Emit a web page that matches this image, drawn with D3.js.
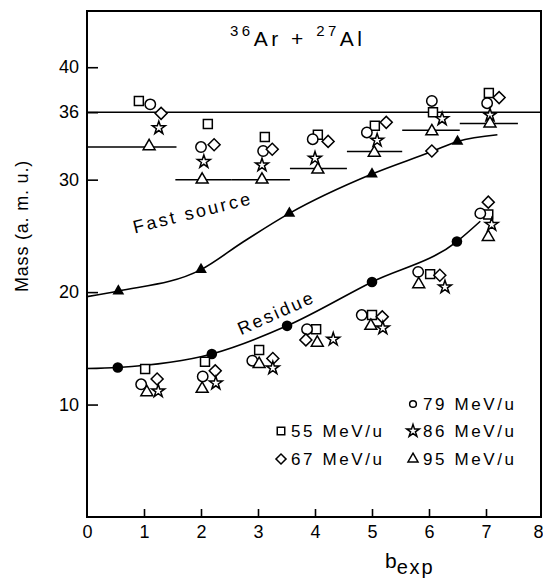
<!DOCTYPE html>
<html>
<head>
<meta charset="utf-8">
<script src="https://cdn.jsdelivr.net/npm/d3@7"></script>
<style>
  html, body { margin: 0; padding: 0; background: #fff; }
  svg { display: block; }
  text { font-family: "Liberation Sans", Arial, Helvetica, sans-serif; fill: #000; }
</style>
</head>
<body>
<svg id="chart" width="543" height="579"></svg>
<script>
// ---------- data ----------
const bTicks = [0, 1, 2, 3, 4, 5, 6, 7, 8];
const massTicks = [10, 20, 30, 40];
const refMass = 36;

// Fast-source fit (filled triangles) and its smooth curve knots
const fastB = [0.55, 2.0, 3.55, 5.0, 6.5];
const fastM = [20.1, 22.0, 27.0, 30.5, 33.4];
const fastCurveB = [0, 0.55, 2.0, 2.75, 3.55, 5.0, 6.05, 6.5, 7.2];
const fastCurveM = [19.6, 20.1, 22.0, 24.5, 27.0, 30.5, 32.5, 33.4, 34.0];

// Residue fit (filled circles) and its curve knots
const resB = [0.54, 2.19, 3.51, 5.0, 6.49];
const resM = [13.3, 14.5, 17.0, 20.9, 24.5];
const resCurveB = [0, 0.54, 2.19, 3.51, 5.0, 6.49, 6.9];
const resCurveM = [13.2, 13.3, 14.5, 17.0, 20.9, 24.5, 26.3];

// b bins (horizontal bars) for the 95 MeV/u fast-source points
const binLo = [0, 1.55, 2.54, 3.56, 4.56, 5.53, 6.54];
const binHi = [1.57, 2.54, 3.56, 4.56, 5.53, 6.54, 7.56];
const binM  = [32.9, 30.0, 30.0, 31.0, 32.5, 34.4, 35.0];

// Fast source measurements
const fast55B = [0.91, 2.12, 3.12, 4.05, 5.05, 6.07, 7.05];
const fast55M = [37.0, 34.95, 33.8, 34.0, 34.8, 36.0, 37.7];
const fast79B = [1.11, 2.0, 3.09, 3.96, 4.91, 6.05, 7.02];
const fast79M = [36.7, 32.9, 32.55, 33.6, 34.2, 37.0, 36.8];
const fast67B = [1.30, 2.23, 3.25, 4.23, 5.25, 6.05, 7.23];
const fast67M = [35.9, 33.1, 32.7, 33.4, 35.1, 32.55, 37.3];
const fast86B = [1.26, 2.05, 3.07, 4.0, 5.09, 6.23, 7.07];
const fast86M = [34.6, 31.6, 31.3, 31.9, 33.5, 35.4, 35.75];
const fast95B = [1.09, 2.02, 3.07, 4.05, 5.04, 6.05, 7.07];
const fast95M = [32.97, 30.0, 30.0, 30.9, 32.4, 34.3, 35.0];

// Residue measurements
const res55B = [1.02, 2.07, 3.02, 4.02, 5.0, 6.02, 7.04];
const res55M = [13.16, 13.8, 14.85, 16.7, 17.96, 21.6, 26.9];
const res79B = [0.95, 2.03, 2.9, 3.86, 4.82, 5.81, 6.9];
const res79M = [11.8, 12.5, 13.9, 16.7, 17.96, 21.8, 27.0];
const res67B = [1.23, 2.25, 3.26, 3.84, 5.18, 6.19, 7.04];
const res67M = [12.27, 13.0, 14.1, 15.75, 17.8, 21.5, 28.0];
const res86B = [1.25, 2.26, 3.26, 4.32, 5.19, 6.28, 7.1];
const res86M = [11.2, 11.9, 13.25, 15.8, 16.8, 20.45, 26.0];
const res95B = [1.05, 2.02, 3.02, 4.04, 4.98, 5.82, 7.04];
const res95M = [11.1, 11.4, 13.6, 15.5, 17.0, 20.7, 24.9];

const energies = ["55 MeV/u", "79 MeV/u", "67 MeV/u", "86 MeV/u", "95 MeV/u"];

// ---------- chart ----------
const svg = d3.select("#chart");
const x = d3.scaleLinear().domain([0, 8]).range([87, 543]);
const y = d3.scaleLinear().domain([0, 45]).range([517, 11]);

const FONT = "Liberation Sans, Arial, Helvetica, sans-serif";

// symbol generators
const symSize = { square: 80, circle: 85, diamond: 72, star: 52, triangle: 62 };
function symPath(kind, scale) {
  const s = scale || 1;
  if (kind === "square") return d3.symbol(d3.symbolSquare, symSize.square * s)();
  if (kind === "diamond") return d3.symbol(d3.symbolSquare, symSize.diamond * s)();
  if (kind === "circle") return d3.symbol(d3.symbolCircle, symSize.circle * s)();
  if (kind === "star") return d3.symbol(d3.symbolStar, symSize.star * s)();
  return d3.symbol(d3.symbolTriangle, symSize.triangle * s)();
}
function rot(kind) { return kind === "diamond" ? " rotate(45)" : ""; }

// frame
const fr = { l: x(0), r: 541, t: y(45), b: y(0) };
svg.append("rect")
  .attr("x", fr.l).attr("y", fr.t)
  .attr("width", fr.r - fr.l).attr("height", fr.b - fr.t)
  .attr("fill", "none").attr("stroke", "#000").attr("stroke-width", 2);

// x axis
const xAxis = d3.axisBottom(x).tickValues(bTicks)
  .tickSizeInner(-8).tickSizeOuter(0).tickPadding(8)
  .tickFormat(d3.format("d"));
const gx = svg.append("g").attr("transform", `translate(0,${y(0)})`).call(xAxis);
gx.select(".domain").remove();
gx.selectAll(".tick line").attr("stroke-width", 1.6)
  .filter(d => d === 0 || d === 8).remove();
gx.selectAll(".tick text").attr("font-family", FONT).attr("font-size", 18).attr("fill", "#000")
  .attr("dx", d => d === 8 ? -5 : 0);

// y axis
const yAxis = d3.axisLeft(y).tickValues(massTicks.concat([refMass]))
  .tickSizeInner(-11).tickSizeOuter(0).tickPadding(8)
  .tickFormat(d3.format("d"));
const gy = svg.append("g").attr("transform", `translate(${x(0)},0)`).call(yAxis);
gy.select(".domain").remove();
gy.selectAll(".tick line").attr("stroke-width", 1.6);
gy.selectAll(".tick text").attr("font-family", FONT).attr("font-size", 18).attr("fill", "#000");

// reference line at 36
svg.append("line")
  .attr("x1", x(0)).attr("x2", fr.r)
  .attr("y1", y(refMass)).attr("y2", y(refMass))
  .attr("stroke", "#000").attr("stroke-width", 1.5);

// bin bars
svg.append("g").selectAll("line").data(binM).join("line")
  .attr("x1", (d, i) => x(binLo[i])).attr("x2", (d, i) => x(binHi[i]))
  .attr("y1", d => y(d)).attr("y2", d => y(d))
  .attr("stroke", "#000").attr("stroke-width", 1.5);

// curves
const line = d3.line().x(d => x(d[0])).y(d => y(d[1])).curve(d3.curveMonotoneX);
svg.append("path").attr("d", line(fastCurveB.map((b, i) => [b, fastCurveM[i]])))
  .attr("fill", "none").attr("stroke", "#000").attr("stroke-width", 1.6);
svg.append("path").attr("d", line(resCurveB.map((b, i) => [b, resCurveM[i]])))
  .attr("fill", "none").attr("stroke", "#000").attr("stroke-width", 1.6);

// filled fit points
svg.append("g").selectAll("path").data(fastB).join("path")
  .attr("d", d3.symbol(d3.symbolTriangle, 60)())
  .attr("transform", (d, i) => `translate(${x(d)},${y(fastM[i])})`)
  .attr("fill", "#000");
svg.append("g").selectAll("circle").data(resB).join("circle")
  .attr("cx", d => x(d)).attr("cy", (d, i) => y(resM[i])).attr("r", 5.3)
  .attr("fill", "#000");

// open measurement symbols
const series = [
  { kind: "square", b: fast55B, m: fast55M }, { kind: "circle", b: fast79B, m: fast79M },
  { kind: "diamond", b: fast67B, m: fast67M }, { kind: "star", b: fast86B, m: fast86M },
  { kind: "triangle", b: fast95B, m: fast95M },
  { kind: "square", b: res55B, m: res55M }, { kind: "circle", b: res79B, m: res79M },
  { kind: "diamond", b: res67B, m: res67M }, { kind: "star", b: res86B, m: res86M },
  { kind: "triangle", b: res95B, m: res95M }
];
series.forEach(s => {
  svg.append("g").selectAll("path").data(s.b).join("path")
    .attr("d", symPath(s.kind))
    .attr("transform", (d, i) => `translate(${x(d)},${y(s.m[i])})${rot(s.kind)}`)
    .attr("fill", "#fff").attr("stroke", "#000").attr("stroke-width", 1.5);
});

// legend
const legend = [
  { kind: "circle", label: energies[1], px: 413, py: 404 },
  { kind: "square", label: energies[0], px: 281, py: 431 },
  { kind: "star", label: energies[3], px: 413, py: 431 },
  { kind: "diamond", label: energies[2], px: 281, py: 459 },
  { kind: "triangle", label: energies[4], px: 413, py: 459 }
];
const lg = svg.append("g");
legend.forEach(L => {
  const sc = L.kind === "circle" ? 0.42 : (L.kind === "star" ? 0.95 : 0.7);
  lg.append("path").attr("d", symPath(L.kind, sc))
    .attr("transform", `translate(${L.px},${L.py})${rot(L.kind)}`)
    .attr("fill", "none").attr("stroke", "#000").attr("stroke-width", 1.5);
  lg.append("text").attr("x", L.px + 10).attr("y", L.py + 6)
    .attr("font-size", 17).attr("letter-spacing", 2.6).text(L.label);
});

// title
const t = svg.append("text").attr("x", 230).attr("y", 46)
  .attr("font-size", 21).attr("letter-spacing", 3.5);
t.append("tspan").attr("font-size", 15).attr("dy", -10).text("36");
t.append("tspan").attr("dy", 10).text("Ar + ");
t.append("tspan").attr("font-size", 15).attr("dy", -10).text("27");
t.append("tspan").attr("dy", 10).text("Al");

// curve labels
svg.append("text")
  .attr("transform", `translate(${x(1.86)},${y(26.95)}) rotate(-14)`)
  .attr("text-anchor", "middle").attr("dominant-baseline", "middle")
  .attr("font-size", 18).attr("letter-spacing", 2.6).text("Fast source");
svg.append("text")
  .attr("transform", `translate(${x(3.33)},${y(18.05)}) rotate(-24)`)
  .attr("text-anchor", "middle").attr("dominant-baseline", "middle")
  .attr("font-size", 18).attr("letter-spacing", 2.4).text("Residue");

// axis titles
const xt = svg.append("text").attr("x", 385).attr("y", 568).attr("font-size", 21);
xt.append("tspan").text("b");
xt.append("tspan").attr("font-size", 20).attr("dy", 6).attr("letter-spacing", 1.8).text("exp");

svg.append("text")
  .attr("transform", "translate(23,226) rotate(-90)")
  .attr("text-anchor", "middle").attr("dominant-baseline", "middle")
  .attr("font-size", 18).attr("letter-spacing", 0.8).text("Mass (a. m. u.)");
</script>
</body>
</html>
